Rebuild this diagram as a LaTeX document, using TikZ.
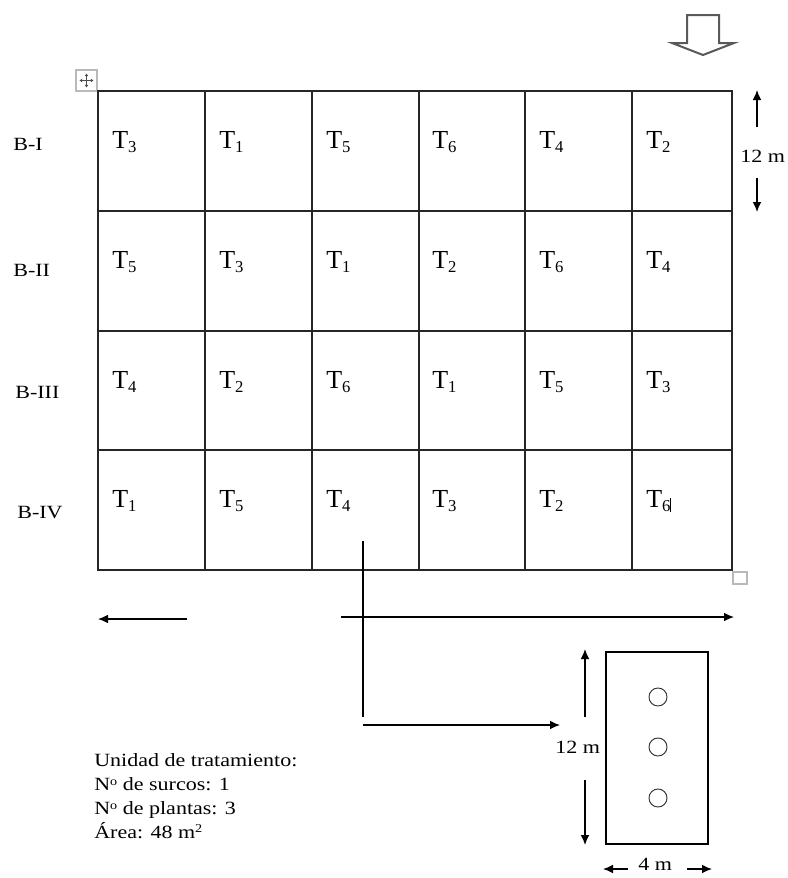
\documentclass[tikz,border=0pt]{standalone}
\usepackage{fontspec}
\setmainfont{Liberation Serif}
\usetikzlibrary{arrows.meta}
\newcommand{\Tlab}[1]{T\raisebox{-3pt}{\fontsize{12.5}{14}\selectfont #1}}
\newcommand{\supo}{\raisebox{0.55ex}{\fontsize{9}{10}\selectfont o}}
\begin{document}
\begin{tikzpicture}[x=0.75pt,y=-0.75pt,
  lab/.style={inner sep=0pt, anchor=base west, font=\fontsize{14}{17}\selectfont, xscale=1.18},
  tlab/.style={inner sep=0pt, anchor=base west, font=\fontsize{19.5}{22}\selectfont},
  arr/.style={-{Latex[length=7.5pt,width=6.5pt]}, line width=0.9pt, draw=black},
  gridline/.style={line width=1.1pt, draw=black!85},
  hole/.style={circle, draw=black!80, line width=0.7pt, minimum size=13.5pt, inner sep=0pt},
  ghost/.style={draw=gray!55, line width=0.8pt}]
\useasboundingbox (0,0) rectangle (788,878);

% direction arrow (hollow, top right)
\draw[draw=gray!70!black, line width=1.5pt, line join=miter]
  (687,15) -- (719,15) -- (719,43) -- (734,43) -- (703,55) -- (672,43) -- (687,43) -- cycle;

% table handles
\draw[ghost] (76,70) rectangle (97,91);
\draw[black!70, line width=0.5pt, {Triangle[length=2pt,width=2.5pt]}-{Triangle[length=2pt,width=2.5pt]}] (79.5,80.5) -- (93.5,80.5);
\draw[black!70, line width=0.5pt, {Triangle[length=2pt,width=2.5pt]}-{Triangle[length=2pt,width=2.5pt]}] (86.5,73.5) -- (86.5,87.5);
\draw[ghost] (733,572) rectangle (747,584);

% grid
\draw[gridline] (98,91) rectangle (732,570);
\foreach \xx in {205,312,419,525,632} \draw[gridline] (\xx,91) -- (\xx,570);
\foreach \yy in {211,331,450} \draw[gridline] (98,\yy) -- (732,\yy);

% block labels
\node[lab] (b1) at (13,150) {B-I};
\node[lab] (b2) at (13,276) {B-II};
\node[lab] (b3) at (15,398) {B-III};
\node[lab] (b4) at (17,518) {B-IV};

% treatments row 1
\node[tlab] (t11) at (112,148) {\Tlab{3}};
\node[tlab] (t12) at (219,148) {\Tlab{1}};
\node[tlab] (t13) at (326,148) {\Tlab{5}};
\node[tlab] (t14) at (432,148) {\Tlab{6}};
\node[tlab] (t15) at (539,148) {\Tlab{4}};
\node[tlab] (t16) at (646,148) {\Tlab{2}};
% row 2
\node[tlab] (t21) at (112,268) {\Tlab{5}};
\node[tlab] (t22) at (219,268) {\Tlab{3}};
\node[tlab] (t23) at (326,268) {\Tlab{1}};
\node[tlab] (t24) at (432,268) {\Tlab{2}};
\node[tlab] (t25) at (539,268) {\Tlab{6}};
\node[tlab] (t26) at (646,268) {\Tlab{4}};
% row 3
\node[tlab] (t31) at (112,388) {\Tlab{4}};
\node[tlab] (t32) at (219,388) {\Tlab{2}};
\node[tlab] (t33) at (326,388) {\Tlab{6}};
\node[tlab] (t34) at (432,388) {\Tlab{1}};
\node[tlab] (t35) at (539,388) {\Tlab{5}};
\node[tlab] (t36) at (646,388) {\Tlab{3}};
% row 4
\node[tlab] (t41) at (112,507) {\Tlab{1}};
\node[tlab] (t42) at (219,507) {\Tlab{5}};
\node[tlab] (t43) at (326,507) {\Tlab{4}};
\node[tlab] (t44) at (432,507) {\Tlab{3}};
\node[tlab] (t45) at (539,507) {\Tlab{2}};
\node[tlab] (t46) at (646,507) {\Tlab{6}\raisebox{-4pt}{\rule{0.5pt}{11pt}}};

% row height dimension (right)
\node[lab] (h1) at (740,162) {12 m};
\coordinate (h1a) at (757,127);
\coordinate (h1b) at (757,90);
\coordinate (h1c) at (757,178);
\coordinate (h1d) at (757,212);
\draw[arr] (h1a) -- (h1b);
\draw[arr] (h1c) -- (h1d);

% bottom arrows
\coordinate (l1) at (187,619);
\coordinate (l2) at (98,619);
\coordinate (r1) at (341,617);
\coordinate (r2) at (734,617);
\draw[arr] (l1) -- (l2);
\draw[arr] (r1) -- (r2);

% call-out line to unit
\coordinate (v1) at (363,541);
\coordinate (v2) at (363,717);
\coordinate (c1) at (363,725);
\coordinate (c2) at (560,725);
\draw[line width=0.9pt] (v1) -- (v2);
\draw[arr] (c1) -- (c2);

% treatment unit
\node[draw=black, line width=0.9pt, minimum width=76.5pt, minimum height=144pt, inner sep=0pt] (plot) at (657,748) {};
\node[hole] (p1) at (658,697) {};
\node[hole] (p2) at (658,747) {};
\node[hole] (p3) at (658,798) {};

\node[lab] (h2) at (555,753) {12 m};
\coordinate (h2a) at (585,717);
\coordinate (h2b) at (585,649);
\coordinate (h2c) at (585,780);
\coordinate (h2d) at (585,845);
\draw[arr] (h2a) -- (h2b);
\draw[arr] (h2c) -- (h2d);

\node[lab] (w1) at (638,870) {4 m};
\coordinate (w1a) at (628,869);
\coordinate (w1b) at (603,869);
\coordinate (w1c) at (687,869);
\coordinate (w1d) at (712,869);
\draw[arr] (w1a) -- (w1b);
\draw[arr] (w1c) -- (w1d);

% legend
\node[lab] (g1) at (94,766) {Unidad de tratamiento:};
\node[lab] (g2) at (94,790) {N\supo{} de surcos: 1};
\node[lab] (g3) at (94,814) {N\supo{} de plantas: 3};
\node[lab] (g4) at (94,838) {Área: 48 m\raisebox{0.6ex}{\fontsize{9}{10}\selectfont 2}};
\end{tikzpicture}
\end{document}
